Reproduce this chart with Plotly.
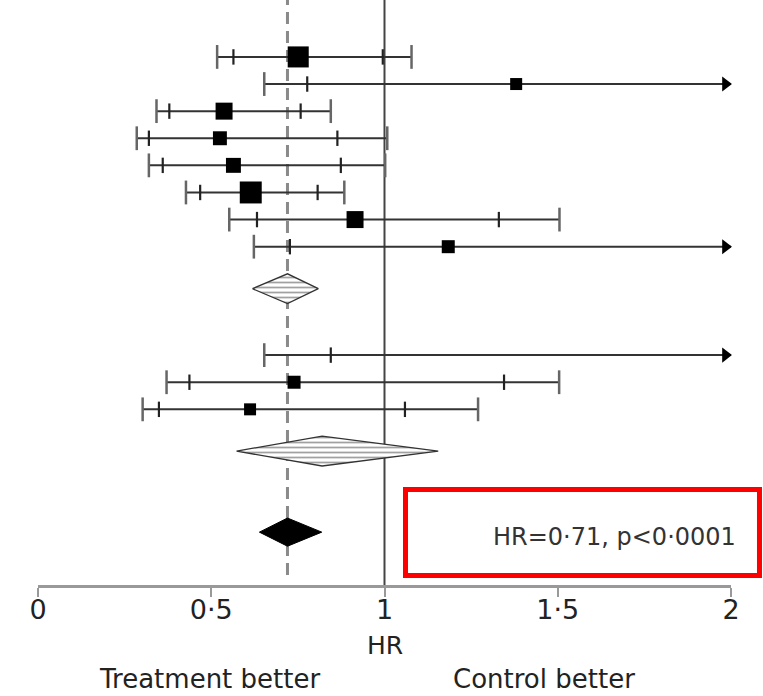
import plotly.graph_objects as go

# ---------------- data ----------------
# study rows (row index: 1..8 group 1, 12..14 group 2)
rows = [1, 2, 3, 4, 5, 6, 7, 8, 12, 13, 14]
hr = [0.751, 1.38, 0.537, 0.525, 0.564, 0.614, 0.915, 1.184, 2.2, 0.739, 0.612]
lo99 = [0.517, 0.653, 0.342, 0.285, 0.320, 0.427, 0.552, 0.623, 0.653, 0.371, 0.302]
lo95 = [0.564, 0.777, 0.379, 0.320, 0.360, 0.468, 0.632, 0.727, 0.845, 0.437, 0.349]
hi95 = [0.995, 2.6, 0.758, 0.864, 0.874, 0.807, 1.330, 2.5, 3.5, 1.345, 1.059]
hi99 = [1.078, 3.2, 0.845, 1.008, 1.002, 0.884, 1.505, 3.0, 4.5, 1.504, 1.270]
weights = [12.3, 4.0, 8.0, 5.4, 6.2, 13.4, 8.0, 4.7, 3.0, 4.7, 4.0]

# subgroup summaries (hatched) and overall (solid)
sub_rows = [9.55, 15.54]
sub_est = [0.72, 0.82]
sub_lo = [0.619, 0.573]
sub_hi = [0.809, 1.155]
overall_row = 18.53
overall_est = 0.72
overall_lo = 0.639
overall_hi = 0.819
pooled_line = 0.72

tick_vals = [0, 0.5, 1, 1.5, 2]
tick_text = ["0", "0·5", "1", "1·5", "2"]
stat_text = "HR=0·71, p<0·0001"
x_title = "HR"
left_label = "Treatment better"
right_label = "Control better"

# ---------------- figure ----------------
X_MAX = 2.0
FONT = "DejaVu Sans"
fig = go.Figure()

# CI lines
lx, ly = [], []
for r, a, b in zip(rows, lo99, hi99):
    lx += [a, min(b, X_MAX), None]
    ly += [r, r, None]
fig.add_trace(go.Scatter(x=lx, y=ly, mode="lines",
                         line=dict(color="#333333", width=2),
                         hoverinfo="skip", showlegend=False))

# outer (99%) ticks
ox, oy = [], []
for r, a, b in zip(rows, lo99, hi99):
    for v in (a, b):
        if v <= X_MAX:
            ox.append(v); oy.append(r)
fig.add_trace(go.Scatter(x=ox, y=oy, mode="markers",
                         marker=dict(symbol="line-ns", size=17, opacity=1,
                                     line=dict(color="#666666", width=2.5)),
                         hoverinfo="skip", showlegend=False))
# inner (95%) ticks
ix, iy = [], []
for r, a, b in zip(rows, lo95, hi95):
    for v in (a, b):
        if v <= X_MAX:
            ix.append(v); iy.append(r)
fig.add_trace(go.Scatter(x=ix, y=iy, mode="markers",
                         marker=dict(symbol="line-ns", size=11, opacity=1,
                                     line=dict(color="#222222", width=2.2)),
                         hoverinfo="skip", showlegend=False))

# arrows where CI exceeds axis
ax_, ay_ = [], []
for r, b in zip(rows, hi99):
    if b > X_MAX:
        ax_.append(X_MAX - 0.016); ay_.append(r)
fig.add_trace(go.Scatter(x=ax_, y=ay_, mode="markers", cliponaxis=False,
                         marker=dict(symbol="triangle-right", size=13, color="black",
                                     opacity=1, line=dict(width=0)),
                         hoverinfo="skip", showlegend=False))

# squares
sizes = [6 * w ** 0.5 for w in weights]
fig.add_trace(go.Scatter(x=hr, y=rows, mode="markers",
                         marker=dict(symbol="square", size=sizes, color="black",
                                     opacity=1, line=dict(width=0)),
                         hoverinfo="skip", showlegend=False))

# subgroup diamonds (hatched)
for r, e, a, b in zip(sub_rows, sub_est, sub_lo, sub_hi):
    h = 0.55
    fig.add_trace(go.Scatter(x=[a, e, b, e, a], y=[r, r - h, r, r + h, r],
                             mode="lines", fill="toself",
                             fillcolor="white",
                             fillpattern=dict(shape="-", size=5, solidity=0.35,
                                              fgcolor="#444444", bgcolor="white"),
                             line=dict(color="#333333", width=1.3),
                             hoverinfo="skip", showlegend=False))

# overall diamond (solid)
h = 0.52
fig.add_trace(go.Scatter(x=[overall_lo, overall_est, overall_hi, overall_est, overall_lo],
                         y=[overall_row, overall_row - h, overall_row, overall_row + h, overall_row],
                         mode="lines", fill="toself", fillcolor="black",
                         line=dict(color="black", width=1),
                         hoverinfo="skip", showlegend=False))

# reference lines
fig.add_shape(type="line", xref="x", yref="paper", x0=1, x1=1, y0=0, y1=1,
              line=dict(color="#444444", width=2), layer="below")
fig.add_shape(type="line", xref="x", yref="paper", x0=pooled_line, x1=pooled_line,
              y0=0.017, y1=1, line=dict(color="#8a8a8a", width=3, dash="12px,7px"),
              layer="below")

# red highlight box and statistic
fig.add_shape(type="rect", xref="paper", yref="paper",
              x0=0.5303, x1=1.0411, y0=0.0162, y1=0.1632,
              line=dict(color="#ff0000", width=5), fillcolor="rgba(0,0,0,0)")
fig.add_annotation(xref="paper", yref="paper", x=1.0101, y=0.082,
                   xanchor="right", yanchor="middle", showarrow=False,
                   text=stat_text, font=dict(family=FONT, size=24, color="#333333"))

# axis title and direction labels
fig.add_annotation(xref="x", yref="paper", x=1, y=-0.1026, showarrow=False,
                   xanchor="center", yanchor="middle", text=x_title,
                   font=dict(family=FONT, size=25, color="#222222"))
fig.add_annotation(xref="x", yref="paper", x=0.495, y=-0.1607, showarrow=False,
                   xanchor="center", yanchor="middle", text=left_label,
                   font=dict(family=FONT, size=26, color="#222222"))
fig.add_annotation(xref="x", yref="paper", x=1.46, y=-0.1607, showarrow=False,
                   xanchor="center", yanchor="middle", text=right_label,
                   font=dict(family=FONT, size=26, color="#222222"))

fig.update_layout(
    width=763, height=696,
    margin=dict(l=38, r=32, t=0, b=111),
    plot_bgcolor="white", paper_bgcolor="white",
    showlegend=False,
    xaxis=dict(range=[0, X_MAX], tickvals=tick_vals, ticktext=tick_text,
               showline=True, linecolor="#999999", linewidth=3,
               ticks="outside", ticklen=9, tickwidth=2, tickcolor="#999999",
               ticklabelstandoff=-10,
               showgrid=False, zeroline=False, fixedrange=True,
               tickfont=dict(family=FONT, size=27, color="#222222")),
    yaxis=dict(range=[20.48, -1.1], visible=False, fixedrange=True),
)

fig.write_html("out.html")
